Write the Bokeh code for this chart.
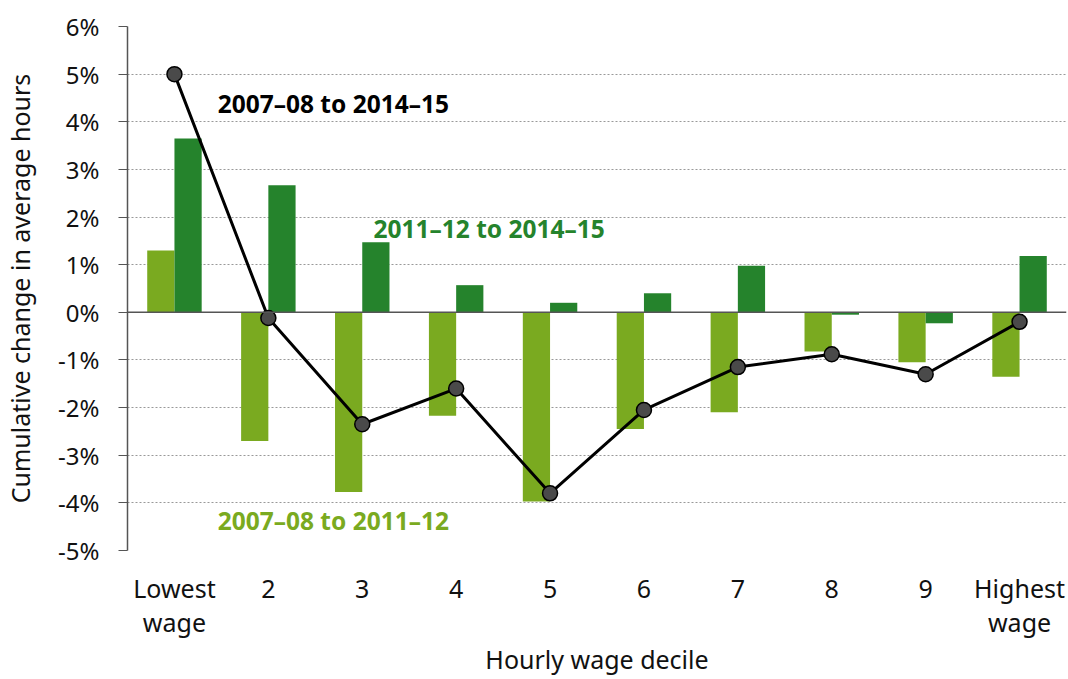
import numpy as np
from bokeh.plotting import figure
from bokeh.models import (ColumnDataSource, FixedTicker, PrintfTickFormatter, Span, Label, Range1d)
from bokeh.embed import file_html
from bokeh.resources import INLINE

categories = ["Lowest\nwage", "2", "3", "4", "5", "6", "7", "8", "9", "Highest\nwage"]
change_0708_1112 = [1.30, -2.70, -3.77, -2.17, -3.97, -2.45, -2.10, -0.82, -1.05, -1.35]
change_1112_1415 = [3.65, 2.67, 1.47, 0.57, 0.20, 0.40, 0.98, -0.05, -0.23, 1.18]
change_0708_1415 = [5.00, -0.12, -2.35, -1.60, -3.80, -2.05, -1.15, -0.88, -1.30, -0.20]
y_ticks = list(range(-5, 7))
x_title = "Hourly wage decile"
y_title = "Cumulative change in average hours"

FONT = "Noto Sans"
LIGHT = "#7aaa20"
DARK = "#25832c"

x = np.arange(1, len(categories) + 1)
bw = 0.29
src = ColumnDataSource(dict(
    x=x, xl=x - bw / 2, xr=x + bw / 2,
    a=change_0708_1112, b=change_1112_1415, c=change_0708_1415))

p = figure(width=1067, height=678, output_backend="svg", toolbar_location=None,
           x_range=Range1d(0.5, len(categories) + 0.5), y_range=Range1d(-5, 6),
           min_border_left=127, min_border_right=1, min_border_top=26, min_border_bottom=100)
p.outline_line_color = None
p.background_fill_color = "white"

p.vbar(x="xl", top="a", width=bw, bottom=0, source=src, fill_color=LIGHT, line_color=None)
p.vbar(x="xr", top="b", width=bw, bottom=0, source=src, fill_color=DARK, line_color=None)

p.add_layout(Span(location=0, dimension="width", line_color="#555555", line_width=1.5))

p.line(x="x", y="c", source=src, line_color="black", line_width=3)
p.scatter(x="x", y="c", source=src, size=15, fill_color="#4a4a4a", line_color="black", line_width=1.5)

# axes
p.xaxis.ticker = FixedTicker(ticks=list(x))
p.xaxis.major_label_overrides = {int(i): c for i, c in zip(x, categories)}
p.xaxis.axis_line_color = None
p.xaxis.major_tick_line_color = None
p.xaxis.minor_tick_line_color = None
p.xaxis.major_label_standoff = 14
p.xaxis.major_label_text_line_height = 1.0
p.xaxis.axis_label = x_title
p.xaxis.axis_label_standoff = 0

p.yaxis.ticker = FixedTicker(ticks=y_ticks)
p.yaxis.formatter = PrintfTickFormatter(format="%d%%")
p.yaxis.axis_line_color = "#555555"
p.yaxis.axis_line_width = 1.5
p.yaxis.major_tick_line_color = "#555555"
p.yaxis.major_tick_out = 9
p.yaxis.major_tick_in = 0
p.yaxis.minor_tick_line_color = None
p.yaxis.major_label_standoff = 19
p.yaxis.axis_label = y_title
p.yaxis.axis_label_standoff = 18

for ax in (p.xaxis, p.yaxis):
    ax.major_label_text_font = FONT
    ax.major_label_text_color = "#111111"
    ax.axis_label_text_font = FONT
    ax.axis_label_text_font_size = "25px"
    ax.axis_label_text_font_style = "normal"
    ax.axis_label_text_color = "#111111"
p.xaxis.major_label_text_font_size = "25px"
p.yaxis.major_label_text_font_size = "24px"

p.xgrid.grid_line_color = None
p.ygrid.ticker = FixedTicker(ticks=[t for t in y_ticks if t != 0])
p.ygrid.grid_line_color = "#999999"
p.ygrid.grid_line_dash = "2 2"
p.ygrid.grid_line_width = 1

for txt, lx, ly, col in [("2007\u201308 to 2014\u201315", 1.46, 4.39, "black"),
                          ("2011\u201312 to 2014\u201315", 3.12, 1.77, DARK),
                          ("2007\u201308 to 2011\u201312", 1.46, -4.37, LIGHT)]:
    p.add_layout(Label(x=lx, y=ly, text=txt, text_font=FONT, text_font_size="24.5px",
                       text_font_style="bold", text_color=col, text_baseline="middle"))

open("out.html", "w").write(file_html(p, INLINE))
